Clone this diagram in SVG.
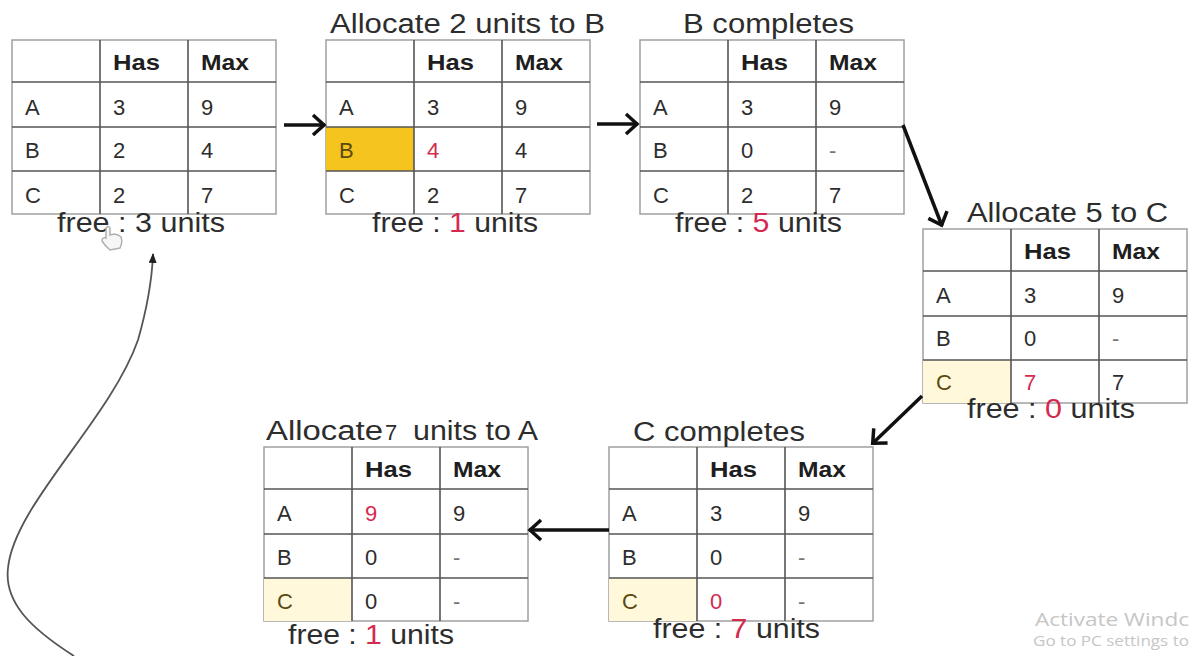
<svg xmlns="http://www.w3.org/2000/svg" width="1193" height="656" viewBox="0 0 1193 656">
<style>
text{font-family:"Liberation Sans",Arial,sans-serif;fill:#2d2d2d}
.c{font-size:22px}
.h{font-size:22px;font-weight:bold;fill:#1e1e1e}
.t{font-size:27px}
.r{fill:#d42a50}
.dash{fill:#777}
.hc{fill:#5a4a12}
.outer{fill:#fff;stroke:#a0a0a0;stroke-width:1.5}
.in{stroke:#555;stroke-width:1.6;fill:none}
.arr{stroke:#111;stroke-width:3.5;fill:none;marker-end:url(#ah)}
.wm{font-family:"Open Sans","Noto Sans",sans-serif;fill:#c6c6c6}
</style>
<defs>
<marker id="ah" markerUnits="userSpaceOnUse" markerWidth="22" markerHeight="26" refX="14" refY="12" orient="auto" overflow="visible">
<path d="M2,2 L13,12 L2,22" fill="none" stroke="#111" stroke-width="3.5"/>
</marker>
<marker id="sh" markerUnits="userSpaceOnUse" markerWidth="12" markerHeight="10" refX="9" refY="4" orient="auto">
<path d="M0,0 L10,4 L0,8 Z" fill="#222"/>
</marker>
</defs>
<rect width="1193" height="656" fill="#fff"/>

<g id="t1" transform="translate(12,40)">
<rect class="outer" x="0" y="0" width="264" height="174"/>
<path class="in" d="M88,0V174M176,0V174M0,42H264M0,87H264M0,131H264"/>
<text class="h" x="101" y="30" textLength="47" lengthAdjust="spacingAndGlyphs">Has</text>
<text class="h" x="189" y="30" textLength="48" lengthAdjust="spacingAndGlyphs">Max</text>
<text class="c" x="13" y="75">A</text><text class="c" x="101" y="75">3</text><text class="c" x="189" y="75">9</text>
<text class="c" x="13" y="118">B</text><text class="c" x="101" y="118">2</text><text class="c" x="189" y="118">4</text>
<text class="c" x="13" y="163">C</text><text class="c" x="101" y="163">2</text><text class="c" x="189" y="163">7</text>
<text class="t" x="45" y="192" textLength="168" lengthAdjust="spacingAndGlyphs">free : 3 units</text>
</g>

<g id="t2" transform="translate(326,40)">
<rect class="outer" x="0" y="0" width="264" height="174"/>
<rect x="0" y="87" width="88" height="44" fill="#f6c41e"/>
<path class="in" d="M88,0V174M176,0V174M0,42H264M0,87H264M0,131H264"/>
<text class="t" x="4" y="-7" textLength="275" lengthAdjust="spacingAndGlyphs">Allocate 2 units to B</text>
<text class="h" x="101" y="30" textLength="47" lengthAdjust="spacingAndGlyphs">Has</text>
<text class="h" x="189" y="30" textLength="48" lengthAdjust="spacingAndGlyphs">Max</text>
<text class="c" x="13" y="75">A</text><text class="c" x="101" y="75">3</text><text class="c" x="189" y="75">9</text>
<text class="c hc" x="13" y="118">B</text><text class="c r" x="101" y="118">4</text><text class="c" x="189" y="118">4</text>
<text class="c" x="13" y="163">C</text><text class="c" x="101" y="163">2</text><text class="c" x="189" y="163">7</text>
<text class="t" x="46" y="192" textLength="166" lengthAdjust="spacingAndGlyphs">free : <tspan class="r">1</tspan> units</text>
</g>

<g id="t3" transform="translate(640,40)">
<rect class="outer" x="0" y="0" width="264" height="174"/>
<path class="in" d="M88,0V174M176,0V174M0,42H264M0,87H264M0,131H264"/>
<text class="t" x="43" y="-7" textLength="171" lengthAdjust="spacingAndGlyphs">B completes</text>
<text class="h" x="101" y="30" textLength="47" lengthAdjust="spacingAndGlyphs">Has</text>
<text class="h" x="189" y="30" textLength="48" lengthAdjust="spacingAndGlyphs">Max</text>
<text class="c" x="13" y="75">A</text><text class="c" x="101" y="75">3</text><text class="c" x="189" y="75">9</text>
<text class="c" x="13" y="118">B</text><text class="c" x="101" y="118">0</text><text class="c dash" x="189" y="118">-</text>
<text class="c" x="13" y="163">C</text><text class="c" x="101" y="163">2</text><text class="c" x="189" y="163">7</text>
<text class="t" x="35" y="192" textLength="167" lengthAdjust="spacingAndGlyphs">free : <tspan class="r">5</tspan> units</text>
</g>

<g id="t4" transform="translate(923,229)">
<rect class="outer" x="0" y="0" width="264" height="174"/>
<rect x="0" y="131" width="88" height="43" fill="#fff8da"/>
<path class="in" d="M88,0V174M176,0V174M0,42H264M0,87H264M0,131H264"/>
<text class="t" x="44" y="-7" textLength="201" lengthAdjust="spacingAndGlyphs">Allocate 5 to C</text>
<text class="h" x="101" y="30" textLength="47" lengthAdjust="spacingAndGlyphs">Has</text>
<text class="h" x="189" y="30" textLength="48" lengthAdjust="spacingAndGlyphs">Max</text>
<text class="c" x="13" y="74">A</text><text class="c" x="101" y="74">3</text><text class="c" x="189" y="74">9</text>
<text class="c" x="13" y="117">B</text><text class="c" x="101" y="117">0</text><text class="c dash" x="189" y="117">-</text>
<text class="c hc" x="13" y="161">C</text><text class="c r" x="101" y="161">7</text><text class="c" x="189" y="161">7</text>
<text class="t" x="44" y="189" textLength="168" lengthAdjust="spacingAndGlyphs">free : <tspan class="r">0</tspan> units</text>
</g>

<g id="t5" transform="translate(264,447)">
<rect class="outer" x="0" y="0" width="264" height="174"/>
<rect x="0" y="131" width="88" height="43" fill="#fff8da"/>
<path class="in" d="M88,0V174M176,0V174M0,42H264M0,87H264M0,131H264"/>
<text class="t" x="2" y="-7" textLength="117" lengthAdjust="spacingAndGlyphs">Allocate</text>
<text class="c" x="121" y="-7">7</text>
<text class="t" x="149" y="-7" textLength="125" lengthAdjust="spacingAndGlyphs">units to A</text>
<text class="h" x="101" y="30" textLength="47" lengthAdjust="spacingAndGlyphs">Has</text>
<text class="h" x="189" y="30" textLength="48" lengthAdjust="spacingAndGlyphs">Max</text>
<text class="c" x="13" y="74">A</text><text class="c r" x="101" y="74">9</text><text class="c" x="189" y="74">9</text>
<text class="c" x="13" y="118">B</text><text class="c" x="101" y="118">0</text><text class="c dash" x="189" y="118">-</text>
<text class="c hc" x="13" y="162">C</text><text class="c" x="101" y="162">0</text><text class="c dash" x="189" y="162">-</text>
<text class="t" x="24" y="197" textLength="166" lengthAdjust="spacingAndGlyphs">free : <tspan class="r">1</tspan> units</text>
</g>

<g id="t6" transform="translate(609,447)">
<rect class="outer" x="0" y="0" width="264" height="174"/>
<rect x="0" y="131" width="88" height="43" fill="#fff8da"/>
<path class="in" d="M88,0V174M176,0V174M0,42H264M0,87H264M0,131H264"/>
<text class="t" x="24" y="-6" textLength="172" lengthAdjust="spacingAndGlyphs">C completes</text>
<text class="h" x="101" y="30" textLength="47" lengthAdjust="spacingAndGlyphs">Has</text>
<text class="h" x="189" y="30" textLength="48" lengthAdjust="spacingAndGlyphs">Max</text>
<text class="c" x="13" y="74">A</text><text class="c" x="101" y="74">3</text><text class="c" x="189" y="74">9</text>
<text class="c" x="13" y="118">B</text><text class="c" x="101" y="118">0</text><text class="c dash" x="189" y="118">-</text>
<text class="c hc" x="13" y="162">C</text><text class="c r" x="101" y="162">0</text><text class="c dash" x="189" y="162">-</text>
<text class="t" x="44" y="191" textLength="167" lengthAdjust="spacingAndGlyphs">free : <tspan class="r">7</tspan> units</text>
</g>

<g id="connectors">
<line class="arr" x1="284" y1="125" x2="325" y2="125"/>
<line class="arr" x1="597" y1="124" x2="638" y2="124"/>
<line class="arr" x1="903" y1="125" x2="942" y2="226"/>
<line class="arr" x1="922" y1="396" x2="872" y2="444"/>
<line class="arr" x1="609" y1="530" x2="529" y2="530"/>
<path d="M74,656 C30,628 4,602 8,568 C14,505 110,420 138,340 C148,305 152,280 153,254" fill="none" stroke="#555" stroke-width="1.8" marker-end="url(#sh)"/>
</g>

<g id="cursor">
<path d="M106,238 L106,228 Q108,225 110,228 L110,235 L114,234 L118,235 L121,237 Q123,242 120,248 L110,250 Q105,246 102,241 Q102,237 106,238 Z" fill="#f6f6f6" stroke="#b0b0b0" stroke-width="1.5"/>
</g>

<text class="wm" x="1035" y="626" font-size="19" textLength="154" lengthAdjust="spacingAndGlyphs">Activate Windc</text>
<text class="wm" x="1033" y="646" font-size="15" textLength="156" lengthAdjust="spacingAndGlyphs">Go to PC settings to</text>
</svg>
